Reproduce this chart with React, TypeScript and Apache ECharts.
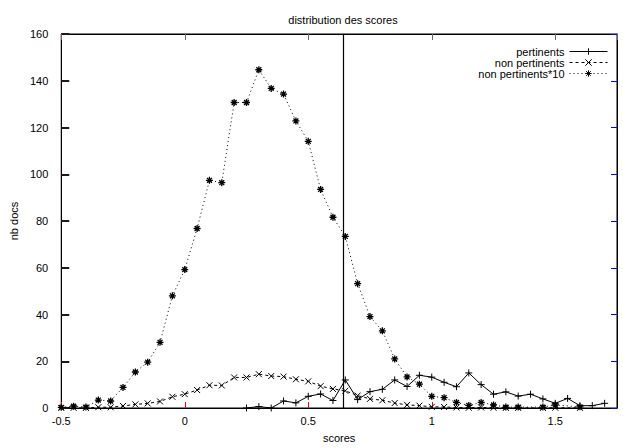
import React, { useEffect, useRef } from "react";
import * as echarts from "echarts";

// x positions (scores) of the non-pertinent histogram bins
const xNonPert = [
  -0.5, -0.45, -0.4, -0.35, -0.3, -0.25, -0.2, -0.15, -0.1, -0.05,
  0, 0.05, 0.1, 0.15, 0.2, 0.25, 0.3, 0.35, 0.4, 0.45,
  0.5, 0.55, 0.6, 0.65, 0.7, 0.75, 0.8, 0.85, 0.9, 0.95,
  1.0, 1.05, 1.1, 1.15, 1.2, 1.25, 1.3, 1.35, 1.45, 1.5, 1.6,
];
const nonPert = [
  0.03, 0.08, 0.04, 0.34, 0.3, 0.88, 1.54, 1.96, 2.81, 4.8,
  5.92, 7.68, 9.74, 9.64, 13.07, 13.07, 14.47, 13.67, 13.43, 12.28,
  11.41, 9.35, 8.16, 7.34, 5.32, 3.91, 3.3, 2.1, 1.33, 1.02,
  0.5, 0.44, 0.24, 0.11, 0.24, 0.13, 0.04, 0.04, 0.04, 0.13, 0.05,
];
const nonPert10 = [
  0.3, 0.8, 0.4, 3.4, 3.0, 8.8, 15.4, 19.6, 28.1, 48.0,
  59.2, 76.8, 97.4, 96.4, 130.7, 130.7, 144.7, 136.7, 134.3, 122.8,
  114.1, 93.5, 81.6, 73.4, 53.2, 39.1, 33.0, 21.0, 13.3, 10.2,
  5.0, 4.4, 2.4, 1.1, 2.4, 1.3, 0.4, 0.4, 0.4, 1.3, 0.5,
];
// pertinent documents
const xPert = [
  0.25, 0.3, 0.35, 0.4, 0.45, 0.5, 0.55, 0.6, 0.65, 0.7,
  0.75, 0.8, 0.85, 0.9, 0.95, 1.0, 1.05, 1.1, 1.15, 1.2,
  1.25, 1.3, 1.35, 1.4, 1.45, 1.5, 1.55, 1.6, 1.65, 1.7,
];
const pert = [
  0, 0.6, 0, 3, 2.2, 5, 6, 3.2, 12, 3.6,
  7, 8, 12, 9.2, 14, 13.2, 11, 9.1, 15, 10,
  5.9, 6.9, 5.1, 5.9, 3.9, 2, 4.1, 1, 1, 2,
];
const threshold = 0.64;
const seriesNames = ["pertinents", "non pertinents", "non pertinents*10"];
const titleText = "distribution des scores";
const xName = "scores";
const yName = "nb docs";

const FONT = "'Liberation Sans', Arial, Helvetica, sans-serif";
const PLUS = "path://M0,5L10,5M5,0L5,10";
const CROSS = "path://M0,0L10,10M10,0L0,10";
const STAR = "path://M0,5L10,5M5,0L5,10M1.5,1.5L8.5,8.5M8.5,1.5L1.5,8.5";

const pairs = (xs: number[], ys: number[]) => xs.map((x, i) => [x, ys[i]]);

export default function App() {
  const ref = useRef<HTMLDivElement>(null);
  useEffect(() => {
    if (!ref.current) return;
    const chart = echarts.init(ref.current, null, { renderer: "svg" });
    const tick = (c: string, w: number, len: number) => ({ show: true, inside: true, length: len, lineStyle: { color: c, width: w } });
    const axLine = () => ({ show: true, onZero: false, lineStyle: { color: "#000", width: 1 } });
    const symStyle = () => ({ color: "#000", borderColor: "#000", borderWidth: 1 });
    chart.setOption({
      animation: false,
      backgroundColor: "#fff",
      textStyle: { fontFamily: FONT, color: "#000" },
      title: {
        text: titleText,
        left: 338,
        textAlign: "center",
        top: 9,
        textStyle: { fontFamily: FONT, fontSize: 11, fontWeight: "normal", color: "#000" },
      },
      legend: {
        orient: "vertical",
        right: 10,
        top: 41,
        align: "right",
        itemWidth: 38,
        itemHeight: 8,
        itemGap: 0,
        textStyle: { fontFamily: FONT, fontSize: 11, color: "#000", lineHeight: 9.5 },
        lineStyle: { width: 1 },
        itemStyle: { borderWidth: 1 },
        data: seriesNames,
      },
      grid: {
        left: 59,
        right: 6,
        top: 34,
        bottom: 36,
        show: true,
        borderColor: "#000",
        borderWidth: 1,
      },
      xAxis: [
        {
          type: "value",
          min: -0.5,
          max: 1.75,
          interval: 0.5,
          name: xName,
          nameLocation: "middle",
          nameGap: 24,
          nameTextStyle: { fontFamily: FONT, fontSize: 11, color: "#000" },
          axisLine: axLine(),
          axisTick: tick("red", 1, 6),
          axisLabel: { fontFamily: FONT, fontSize: 11, color: "#000", margin: 7, showMaxLabel: false },
          splitLine: { show: false },
        },
        {
          type: "value",
          position: "top",
          min: -0.5,
          max: 1.75,
          interval: 0.5,
          axisLine: axLine(),
          axisTick: tick("#666", 1, 6),
          axisLabel: { show: false },
          splitLine: { show: false },
        },
      ],
      yAxis: [
        {
          type: "value",
          min: 0,
          max: 160,
          interval: 20,
          name: yName,
          nameLocation: "middle",
          nameGap: 38,
          nameRotate: 90,
          nameTextStyle: { fontFamily: FONT, fontSize: 11, color: "#000" },
          axisLine: axLine(),
          axisTick: tick("#1a1a1a", 2, 8),
          axisLabel: { fontFamily: FONT, fontSize: 11, color: "#000", margin: 13 },
          splitLine: { show: false },
        },
        {
          type: "value",
          position: "right",
          min: 0,
          max: 160,
          interval: 20,
          axisLine: axLine(),
          axisTick: tick("blue", 1, 6),
          axisLabel: { show: false },
          splitLine: { show: false },
        },
      ],
      series: [
        {
          name: seriesNames[0],
          type: "line",
          data: pairs(xPert, pert),
          symbol: PLUS,
          symbolSize: 7,
          showSymbol: true,
          itemStyle: symStyle(),
          lineStyle: { color: "#000", width: 1, type: "solid" },
          markLine: {
            silent: true,
            symbol: "none",
            label: { show: false },
            lineStyle: { color: "#000", width: 1.2, type: "solid" },
            data: [{ xAxis: threshold }],
          },
        },
        {
          name: seriesNames[1],
          type: "line",
          data: pairs(xNonPert, nonPert),
          symbol: CROSS,
          symbolSize: 6,
          showSymbol: true,
          itemStyle: symStyle(),
          lineStyle: { color: "#000", width: 1, type: [3, 3] },
        },
        {
          name: seriesNames[2],
          type: "line",
          data: pairs(xNonPert, nonPert10),
          symbol: STAR,
          symbolSize: 7,
          showSymbol: true,
          itemStyle: { color: "#000", borderColor: "#000", borderWidth: 1.3 },
          lineStyle: { color: "#000", width: 1, type: [1, 3] },
        },
      ],
    });
    return () => chart.dispose();
  }, []);
  return (
    <div
      ref={ref}
      style={{ position: "fixed", left: 0, top: 0, width: 623, height: 448, background: "#fff" }}
    />
  );
}
